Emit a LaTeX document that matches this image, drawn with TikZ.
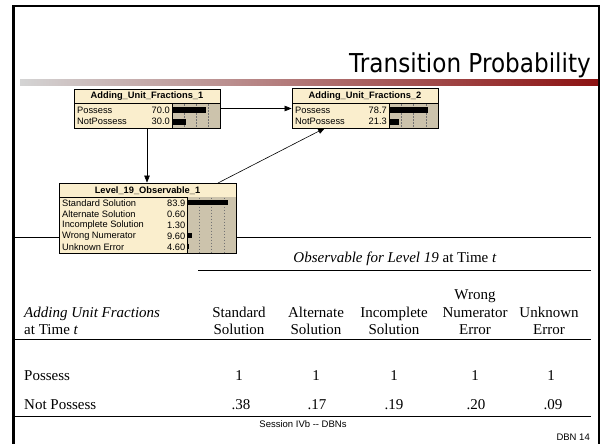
\documentclass[tikz,border=0pt]{standalone}
\usepackage{fontspec}
\setmainfont{Liberation Serif}
\newfontfamily\arialf{Liberation Sans}
\newfontfamily\titlef{DejaVu Sans}
\usetikzlibrary{arrows.meta}
\definecolor{cream}{RGB}{250,238,205}
\definecolor{barbg}{RGB}{204,195,172}
\definecolor{gL}{RGB}{212,212,212}
\definecolor{gR}{RGB}{140,18,18}
\tikzset{
  netbox/.style={draw=black, line width=0.8pt, fill=cream, rectangle, inner sep=0pt},
  nettitle/.style={font=\arialf\bfseries\fontsize{9.3}{10}\selectfont, inner sep=0pt},
  rowtxt/.style={font=\arialf\fontsize{9.3}{10}\selectfont, inner sep=0pt, anchor=west},
  valtxt/.style={font=\arialf\fontsize{9.3}{10}\selectfont, inner sep=0pt, anchor=east},
  gridl/.style={draw=black!55, line width=0.5pt, dash pattern=on 1.5pt off 1.5pt},
  barf/.style={fill=black},
  arr/.style={draw=black, line width=0.6pt, -{Triangle[length=7pt,width=5.5pt]}},
  tabtxt/.style={font=\fontsize{15}{17}\selectfont, inner sep=0pt},
  rule/.style={draw=black, line width=0.9pt},
  foot/.style={font=\arialf\fontsize{9.5}{11}\selectfont, inner sep=0pt}
}
\begin{document}
\begin{tikzpicture}[x=1pt,y=-1pt]
\useasboundingbox (0,0) rectangle (602,444);
\fill[white] (0,0) rectangle (602,444);
% frame
\draw[line width=3pt] (13.5,444) -- (13.5,6.5);
\draw[line width=2pt] (12,6.5) -- (600,6.5);
\draw[line width=1.5pt] (599,5.5) -- (599,444);
% title
\node[anchor=base east, inner sep=0pt, font=\titlef\fontsize{26}{28}\selectfont] (title) at (591,72) {\scalebox{0.89}[1]{Transition Probability}};
\shade[left color=gL, right color=gR] (20,79) rectangle (598,85);

% table rules
\draw[rule] (14,237) -- (591,237);
\draw[rule] (198,270) -- (591,270);
\draw[rule] (14,339) -- (591,339);
\draw[rule] (14,416) -- (591,416);

% ---------- node 1
\node[netbox, minimum width=146pt, minimum height=39pt] (n1) at (147,108.5) {};
\draw[line width=0.8pt] (74,103.5) -- (220,103.5);
\fill[barbg] (172,103.9) rectangle (219.6,127.6);
\draw[gridl] (184,104) -- (184,128) (196,104) -- (196,128) (208,104) -- (208,128);
\draw[line width=0.6pt] (172,103.5) -- (172,128);
\node[nettitle] (n1t) at (147,96.3) {Adding\_Unit\_Fractions\_1};
\node[rowtxt] (n1a) at (77,110) {Possess};
\node[rowtxt] (n1b) at (77,121.5) {NotPossess};
\node[valtxt] (n1av) at (170,110) {70.0};
\node[valtxt] (n1bv) at (170,121.5) {30.0};
\fill[barf] (172,107) rectangle (205.6,113);
\fill[barf] (172,118.5) rectangle (186.4,124.5);
\draw[line width=0.8pt] (74,89) rectangle (220,128);

% ---------- node 2
\node[netbox, minimum width=146pt, minimum height=40pt] (n2) at (365,108) {};
\draw[line width=0.8pt] (292,103.5) -- (438,103.5);
\fill[barbg] (389,103.9) rectangle (437.6,127.6);
\draw[gridl] (401.25,104) -- (401.25,128) (413.5,104) -- (413.5,128) (425.75,104) -- (425.75,128);
\draw[line width=0.6pt] (389,103.5) -- (389,128);
\node[nettitle] (n2t) at (365,96) {Adding\_Unit\_Fractions\_2};
\node[rowtxt] (n2a) at (295,110) {Possess};
\node[rowtxt] (n2b) at (295,121.5) {NotPossess};
\node[valtxt] (n2av) at (387,110) {78.7};
\node[valtxt] (n2bv) at (387,121.5) {21.3};
\fill[barf] (389,107) rectangle (427.6,113);
\fill[barf] (389,118.5) rectangle (399.4,124.5);
\draw[line width=0.8pt] (292,88) rectangle (438,128);

% ---------- node 3
\node[netbox, minimum width=177pt, minimum height=70pt] (n3) at (147.5,218) {};
\draw[line width=0.8pt] (59,197) -- (236,197);
\fill[barbg] (187,197.4) rectangle (235.6,252.6);
\draw[gridl] (199.25,197.5) -- (199.25,253) (211.5,197.5) -- (211.5,253) (223.75,197.5) -- (223.75,253);
\draw[line width=0.6pt] (187,197) -- (187,253);
\node[nettitle] (n3t) at (147.5,190.3) {Level\_19\_Observable\_1};
\node[rowtxt] (n3a) at (62,202.8) {Standard Solution};
\node[rowtxt] (n3b) at (62,213.8) {Alternate Solution};
\node[rowtxt] (n3c) at (62,224.8) {Incomplete Solution};
\node[rowtxt] (n3d) at (62,235.8) {Wrong Numerator};
\node[rowtxt] (n3e) at (62,246.8) {Unknown Error};
\node[valtxt] (n3av) at (185.5,202.8) {83.9};
\node[valtxt] (n3bv) at (185.5,213.8) {0.60};
\node[valtxt] (n3cv) at (185.5,224.8) {1.30};
\node[valtxt] (n3dv) at (185.5,235.8) {9.60};
\node[valtxt] (n3ev) at (185.5,246.8) {4.60};
\fill[barf] (187,200.3) rectangle (228.1,205.3);
\fill[barf] (187,222.3) rectangle (188.2,227.3);
\fill[barf] (187,233.3) rectangle (191.7,238.3);
\fill[barf] (187,244.3) rectangle (189.3,249.3);
\draw[line width=0.8pt] (59,183) rectangle (236,253);

% ---------- connectors
\draw[arr] (n1.east) -- (n1.east -| n2.west);
\draw[arr] (n1.south) -- (n1.south |- n3.north);
\coordinate (n3out) at (218,183);
\coordinate (n2in) at (325,128);
\draw[arr] (n3out) -- (n2in);

% ---------- table text
\node[tabtxt, anchor=base] (obs) at (395,262) {\textit{Observable for Level 19} at Time \textit{t}};
\node[tabtxt, anchor=base west] (rowh1) at (24,317) {\textit{Adding Unit Fractions}};
\node[tabtxt, anchor=base west] (rowh2) at (24,334) {at Time \textit{t}};
\node[tabtxt, anchor=base] (c1a) at (239,317) {Standard};
\node[tabtxt, anchor=base] (c1b) at (239,334) {Solution};
\node[tabtxt, anchor=base] (c2a) at (316,317) {Alternate};
\node[tabtxt, anchor=base] (c2b) at (316,334) {Solution};
\node[tabtxt, anchor=base] (c3a) at (394,317) {Incomplete};
\node[tabtxt, anchor=base] (c3b) at (394,334) {Solution};
\node[tabtxt, anchor=base] (c4w) at (475,299) {Wrong};
\node[tabtxt, anchor=base] (c4a) at (475,317) {Numerator};
\node[tabtxt, anchor=base] (c4b) at (475,334) {Error};
\node[tabtxt, anchor=base] (c5a) at (549,317) {Unknown};
\node[tabtxt, anchor=base] (c5b) at (549,334) {Error};

\node[tabtxt, anchor=base west] (r1) at (24,380) {Possess};
\node[tabtxt, anchor=base west] (r2) at (24,409) {Not Possess};
\node[tabtxt, anchor=base] (v11) at (239,380) {1};
\node[tabtxt, anchor=base] (v12) at (316,380) {1};
\node[tabtxt, anchor=base] (v13) at (394,380) {1};
\node[tabtxt, anchor=base] (v14) at (475,380) {1};
\node[tabtxt, anchor=base] (v15) at (551,380) {1};
\node[tabtxt, anchor=base] (v21) at (241,409) {.38};
\node[tabtxt, anchor=base] (v22) at (317,409) {.17};
\node[tabtxt, anchor=base] (v23) at (394,409) {.19};
\node[tabtxt, anchor=base] (v24) at (476,409) {.20};
\node[tabtxt, anchor=base] (v25) at (553,409) {.09};

\node[foot] (sess) at (303,424) {Session IVb -- DBNs};
\node[foot, anchor=east] (dbn) at (590,437) {DBN 14};
\end{tikzpicture}
\end{document}
